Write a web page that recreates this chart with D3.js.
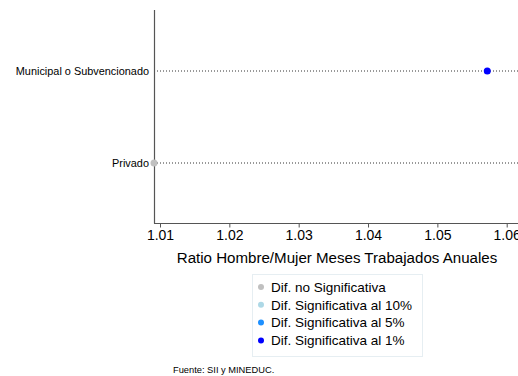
<!DOCTYPE html>
<html><head><meta charset="utf-8">
<script src="https://cdn.jsdelivr.net/npm/d3@7"></script>
<style>body{margin:0;background:#fff}svg{display:block;font-family:"Liberation Sans",Arial,sans-serif}</style>
</head><body><svg id="c" width="518" height="376"></svg>
<script>
const categories = ["Municipal o Subvencionado", "Privado"];
const values = [1.0572, 1.0091];
const significance = ["1%", "none"];
const xTicks = [1.01, 1.02, 1.03, 1.04, 1.05, 1.06];
const legendLabels = ["Dif. no Significativa", "Dif. Significativa al 10%", "Dif. Significativa al 5%", "Dif. Significativa al 1%"];
const legendKeys = ["none", "10%", "5%", "1%"];
const legendColors = ["#c0c0c0", "#add8e6", "#1e90ff", "#0000ff"];

const svg = d3.select("#c");
const color = d3.scaleOrdinal().domain(legendKeys).range(legendColors);
const x0 = 154;
const x = d3.scaleLinear().domain([1.01, 1.06]).range([160, 506.7]);
const y = d3.scalePoint().domain(categories).range([71, 163]);
const axisY = 223.5;

// dotted lines
svg.append("g").selectAll("line").data(categories).join("line")
  .attr("x1", x0).attr("x2", 518)
  .attr("y1", d => y(d)).attr("y2", d => y(d))
  .attr("stroke", "#333").attr("stroke-width", 1).attr("stroke-dasharray", "1,2");

// y axis line
svg.append("line").attr("x1", x0 + 0.5).attr("x2", x0 + 0.5).attr("y1", 10).attr("y2", axisY)
  .attr("stroke", "#555").attr("stroke-width", 1.2);
// category labels
svg.append("g").selectAll("text").data(categories).join("text")
  .attr("x", x0 - 5).attr("y", d => y(d)).attr("dy", "0.35em")
  .attr("text-anchor", "end").attr("font-size", 10.9).attr("fill", "#000").text(d => d);

// x axis
const xa = svg.append("g").attr("transform", `translate(0,${axisY})`)
  .call(d3.axisBottom(x).tickValues(xTicks).tickFormat(d3.format(".2f")).tickSize(4).tickPadding(3).tickSizeOuter(0));
xa.select(".domain").remove();
xa.append("line").attr("x1", x0).attr("x2", 518).attr("stroke", "#555").attr("stroke-width", 1.2);
xa.selectAll(".tick line").attr("stroke", "#555");
xa.selectAll(".tick text").attr("font-size", 14).attr("fill", "#000").attr("font-family", "Liberation Sans, Arial, sans-serif");

svg.append("text").attr("x", 337).attr("y", 263).attr("text-anchor", "middle")
  .attr("font-size", 15.1).attr("fill", "#000").text("Ratio Hombre/Mujer Meses Trabajados Anuales");

// points
svg.append("g").selectAll("circle").data(categories).join("circle")
  .attr("cx", (d, i) => Math.max(x(values[i]), x0)).attr("cy", d => y(d)).attr("r", 3.5)
  .attr("fill", (d, i) => color(significance[i]));

// legend
const lg = svg.append("g");
lg.append("rect").attr("x", 252.5).attr("y", 274.5).attr("width", 170).attr("height", 82)
  .attr("fill", "#fff").attr("stroke", "#e6eef2");
const items = lg.selectAll("g").data(legendKeys).join("g")
  .attr("transform", (d, i) => `translate(261,${287 + i * 17.8})`);
items.append("circle").attr("r", 3).attr("fill", d => color(d));
items.append("text").attr("x", 10).attr("dy", "0.35em").attr("font-size", 13.5).attr("fill", "#000")
  .text((d, i) => legendLabels[i]);

svg.append("text").attr("x", 173).attr("y", 373).attr("font-size", 9.3).attr("fill", "#000")
  .text("Fuente: SII y MINEDUC.");
</script></body></html>
